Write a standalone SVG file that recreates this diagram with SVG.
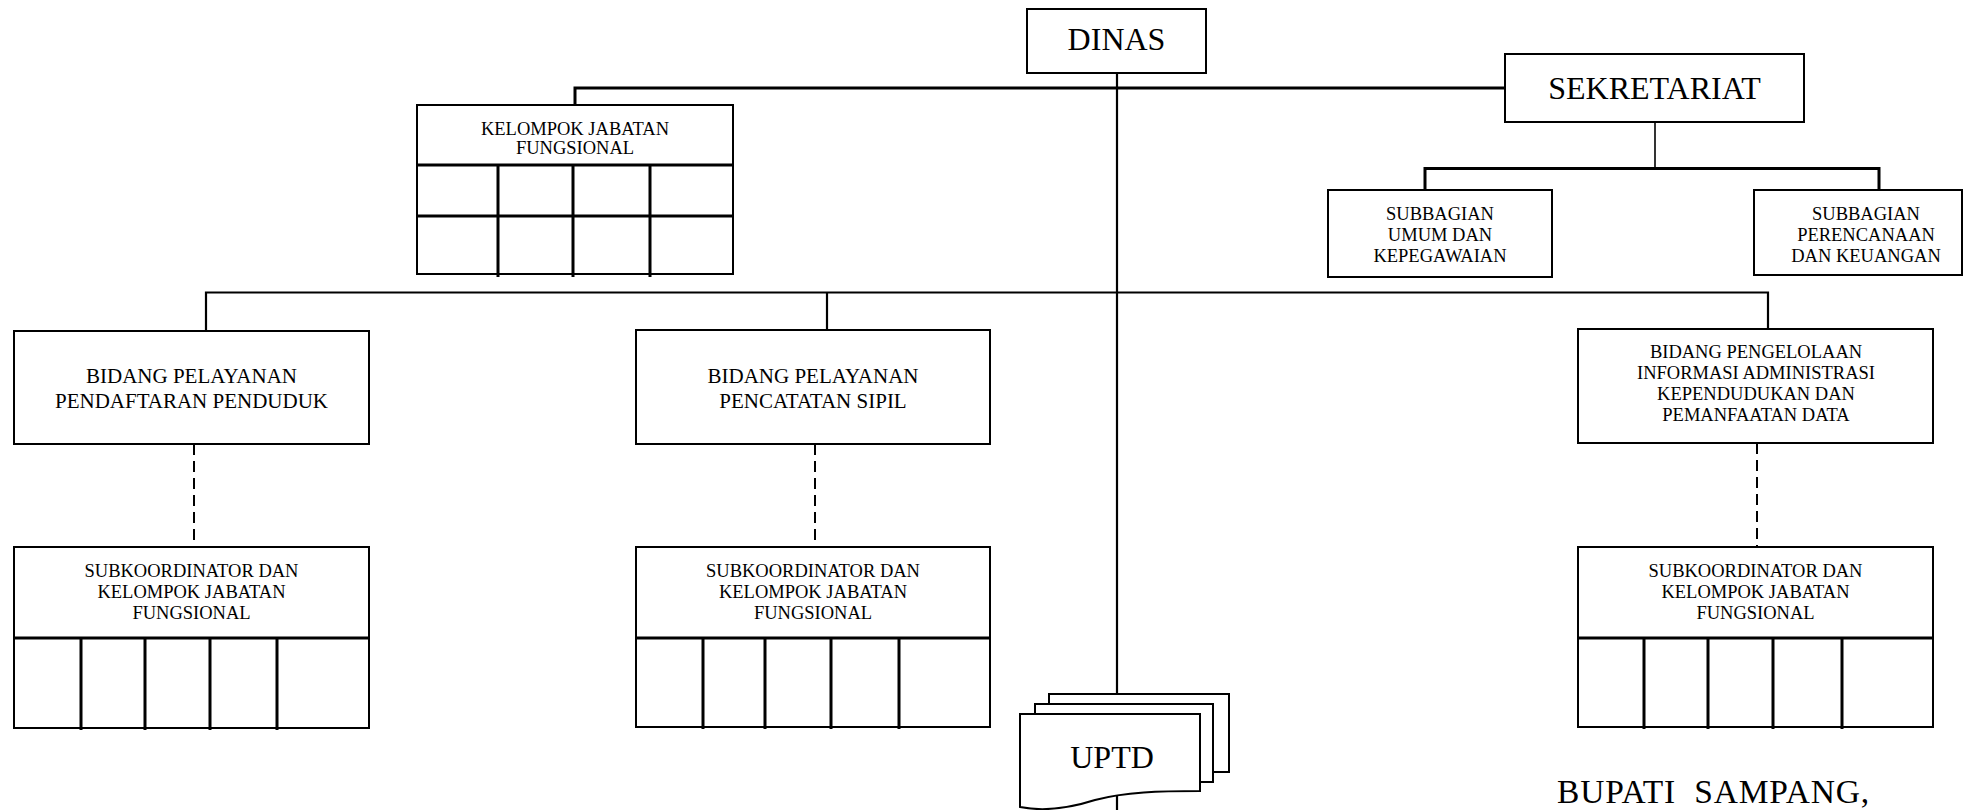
<svg xmlns="http://www.w3.org/2000/svg" width="1964" height="810" viewBox="0 0 1964 810">
<style>
.bg{fill:#fff}
.box{fill:#fff;stroke:#000;stroke-width:2}
.div{stroke:#000;stroke-width:3;fill:none}
.ln{stroke:#000;fill:none}
.thick{stroke-width:3}
.mid{stroke-width:2.2}
.thin{stroke-width:1.6}
.dash{stroke-width:2;stroke-dasharray:11 6}
.t{font-family:"Liberation Serif","Times New Roman",serif;fill:#000;text-anchor:middle}
.big{font-size:32px}
.md{font-size:21px}
.sm{font-size:18.5px}
</style>
<rect class="bg" x="0" y="0" width="1964" height="810"/>
<g id="connectors">
  <path class="ln thick" d="M575,105 V88 H1505"/>
  <path class="ln mid" d="M1117,73 V810"/>
  <path class="ln thin" d="M1655,122 V168.5"/>
  <path class="ln thick" d="M1425,190 V168.5 H1879 V190"/>
  <path class="ln mid" d="M206,331 V292.5 H1768 V329"/>
  <path class="ln mid" d="M827,292.5 V330"/>
  <path class="ln dash" d="M194,444 V547"/>
  <path class="ln dash" d="M815,444 V547"/>
  <path class="ln dash" d="M1757,443 V547"/>
</g>
<g id="dinas">
  <rect class="box" x="1027" y="9" width="179" height="64"/>
  <text class="t big" x="1116.5" y="50">DINAS</text>
</g>
<g id="sekretariat">
  <rect class="box" x="1505" y="54" width="299" height="68"/>
  <text class="t big" x="1654.5" y="99">SEKRETARIAT</text>
</g>
<g id="kelompok-jabatan-fungsional">
  <rect class="box" x="417" y="105" width="316" height="169"/>
  <path class="div" d="M417,165 H733 M417,216 H733 M498,165 V277 M573,165 V277 M650,165 V277"/>
  <text class="t sm" x="575" y="135">KELOMPOK JABATAN</text>
  <text class="t sm" x="575" y="154">FUNGSIONAL</text>
</g>
<g id="subbagian-umum">
  <rect class="box" x="1328" y="190" width="224" height="87"/>
  <text class="t sm" x="1440" y="220">SUBBAGIAN</text>
  <text class="t sm" x="1440" y="241">UMUM DAN</text>
  <text class="t sm" x="1440" y="262">KEPEGAWAIAN</text>
</g>
<g id="subbagian-perencanaan">
  <rect class="box" x="1754" y="190" width="208" height="85"/>
  <text class="t sm" x="1866" y="220">SUBBAGIAN</text>
  <text class="t sm" x="1866" y="241">PERENCANAAN</text>
  <text class="t sm" x="1866" y="262">DAN KEUANGAN</text>
</g>
<g id="bidang-pendaftaran">
  <rect class="box" x="14" y="331" width="355" height="113"/>
  <text class="t md" x="191.5" y="383">BIDANG PELAYANAN</text>
  <text class="t md" x="191.5" y="408">PENDAFTARAN PENDUDUK</text>
</g>
<g id="bidang-pencatatan">
  <rect class="box" x="636" y="330" width="354" height="114"/>
  <text class="t md" x="813" y="383">BIDANG PELAYANAN</text>
  <text class="t md" x="813" y="408">PENCATATAN SIPIL</text>
</g>
<g id="bidang-pengelolaan">
  <rect class="box" x="1578" y="329" width="355" height="114"/>
  <text class="t sm" x="1756" y="358">BIDANG PENGELOLAAN</text>
  <text class="t sm" x="1756" y="379">INFORMASI ADMINISTRASI</text>
  <text class="t sm" x="1756" y="400">KEPENDUDUKAN DAN</text>
  <text class="t sm" x="1756" y="421">PEMANFAATAN DATA</text>
</g>
<g id="subkoordinator-1">
  <rect class="box" x="14" y="547" width="355" height="181"/>
  <path class="div" d="M14,638 H369 M81,638 V730 M145,638 V730 M210,638 V730 M277,638 V730"/>
  <text class="t sm" x="191.5" y="577">SUBKOORDINATOR DAN</text>
  <text class="t sm" x="191.5" y="598">KELOMPOK JABATAN</text>
  <text class="t sm" x="191.5" y="619">FUNGSIONAL</text>
</g>
<g id="subkoordinator-2">
  <rect class="box" x="636" y="547" width="354" height="180"/>
  <path class="div" d="M636,638 H990 M703,638 V729 M765,638 V729 M831,638 V729 M899,638 V729"/>
  <text class="t sm" x="813" y="577">SUBKOORDINATOR DAN</text>
  <text class="t sm" x="813" y="598">KELOMPOK JABATAN</text>
  <text class="t sm" x="813" y="619">FUNGSIONAL</text>
</g>
<g id="subkoordinator-3">
  <rect class="box" x="1578" y="547" width="355" height="180"/>
  <path class="div" d="M1578,638 H1933 M1644,638 V729 M1708,638 V729 M1773,638 V729 M1842,638 V729"/>
  <text class="t sm" x="1755.5" y="577">SUBKOORDINATOR DAN</text>
  <text class="t sm" x="1755.5" y="598">KELOMPOK JABATAN</text>
  <text class="t sm" x="1755.5" y="619">FUNGSIONAL</text>
</g>
<g id="uptd">
  <rect class="box" x="1049" y="694" width="180" height="78"/>
  <rect class="box" x="1035" y="704" width="178" height="78"/>
  <path class="box" d="M1020,714 H1200 V791 C1160,791 1125,792 1095,800 C1070,808 1045,812 1020,807 Z"/>
  <text class="t big" x="1112" y="768">UPTD</text>
</g>
<g id="bupati">
  <text class="t" x="1557" y="803" style="text-anchor:start;font-size:33.5px;white-space:pre" textLength="312" lengthAdjust="spacing">BUPATI  SAMPANG,</text>
</g>
</svg>
